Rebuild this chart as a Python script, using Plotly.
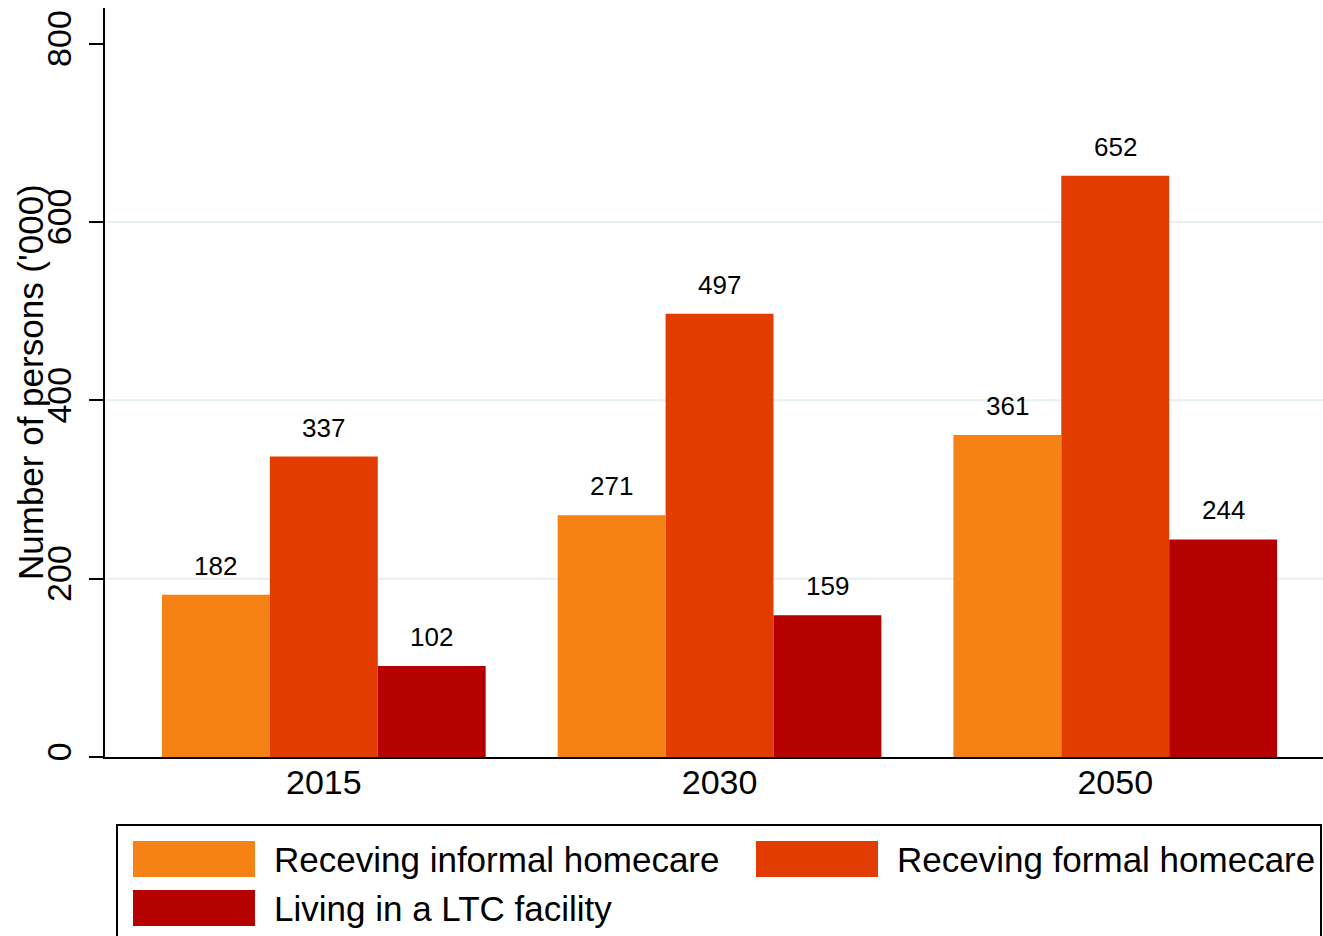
import plotly.graph_objects as go

years = ["2015", "2030", "2050"]
series_names = ["Receving informal homecare", "Receving formal homecare", "Living in a LTC facility"]
informal = [182, 271, 361]
formal = [337, 497, 652]
ltc = [102, 159, 244]
series_values = [informal, formal, ltc]
colors = ["#F68216", "#E33C00", "#B50200"]
y_ticks = [0, 200, 400, 600, 800]
grid_vals = [200, 400, 600]

W, H = 1323, 936
L, R, T, B = 105, 0, 8, 179
PW = W - L - R
PH = H - T - B
FONT = "Liberation Sans, Arial, sans-serif"
BARGAP = 0.182


def px(x):
    return (x - L) / PW


def py(y):
    return (H - B - y) / PH


fig = go.Figure()
for name, vals, col in zip(series_names, series_values, colors):
    fig.add_trace(go.Bar(x=years, y=vals, name=name, marker=dict(color=col, line=dict(width=0)),
                         showlegend=False))

# value labels above the bars
bw = (1 - BARGAP) / len(series_values)
annotations = []
for k, vals in enumerate(series_values):
    off = (k - (len(series_values) - 1) / 2) * bw
    for i, v in enumerate(vals):
        annotations.append(dict(x=i + off, y=v, xref="x", yref="y", text=str(v), showarrow=False,
                                yanchor="bottom", yshift=12, font=dict(size=26, color="black", family=FONT)))

# y-axis title
annotations.append(dict(x=px(30), y=py(382), xref="paper", yref="paper", text="Number of persons ('000)",
                        textangle=-90, showarrow=False, xanchor="center", yanchor="middle",
                        font=dict(size=35, color="black", family=FONT)))

shapes = []
for g in grid_vals:
    shapes.append(dict(type="line", xref="paper", yref="y", x0=0, x1=1, y0=g, y1=g,
                       line=dict(color="#E6EFF1", width=2), layer="below"))

# legend box
shapes.append(dict(type="rect", xref="paper", yref="paper", x0=px(117), x1=px(1321), y0=py(825), y1=py(945),
                   line=dict(color="black", width=2), fillcolor="rgba(0,0,0,0)"))
legend_pos = [(133, 841), (756, 841), (133, 890)]
for (lx, ly), name, col in zip(legend_pos, series_names, colors):
    shapes.append(dict(type="rect", xref="paper", yref="paper", x0=px(lx), x1=px(lx + 122),
                       y0=py(ly), y1=py(ly + 36), line=dict(width=0), fillcolor=col))
    annotations.append(dict(x=px(lx + 139), y=py(ly + 18), xref="paper", yref="paper", text=name,
                            showarrow=False, xanchor="left", yanchor="middle",
                            font=dict(size=35, color="black", family=FONT)))

fig.update_layout(
    width=W, height=H,
    margin=dict(l=L, r=R, t=T, b=B),
    paper_bgcolor="white", plot_bgcolor="white",
    barmode="group", bargap=BARGAP, bargroupgap=0,
    font=dict(family=FONT, color="black"),
    annotations=annotations, shapes=shapes,
    showlegend=False,
)
fig.update_xaxes(type="category", range=[-0.553, 2.525], showgrid=False, showline=True,
                 linecolor="black", linewidth=2, ticks="", tickfont=dict(size=34, family=FONT, color="black"),
                 zeroline=False, ticklabelstandoff=-6)
fig.update_yaxes(range=[0, 840], tickvals=y_ticks, showgrid=False, showline=True, linecolor="black",
                 linewidth=2, ticks="outside", ticklen=14, tickwidth=2, tickcolor="black",
                 tickangle=-90, tickfont=dict(size=34, family=FONT, color="black"), zeroline=False,
                 ticklabelstandoff=4)

fig.write_html("out.html", config={"displayModeBar": False},
               post_script="document.body.style.margin='0';document.body.style.overflow='hidden';")
